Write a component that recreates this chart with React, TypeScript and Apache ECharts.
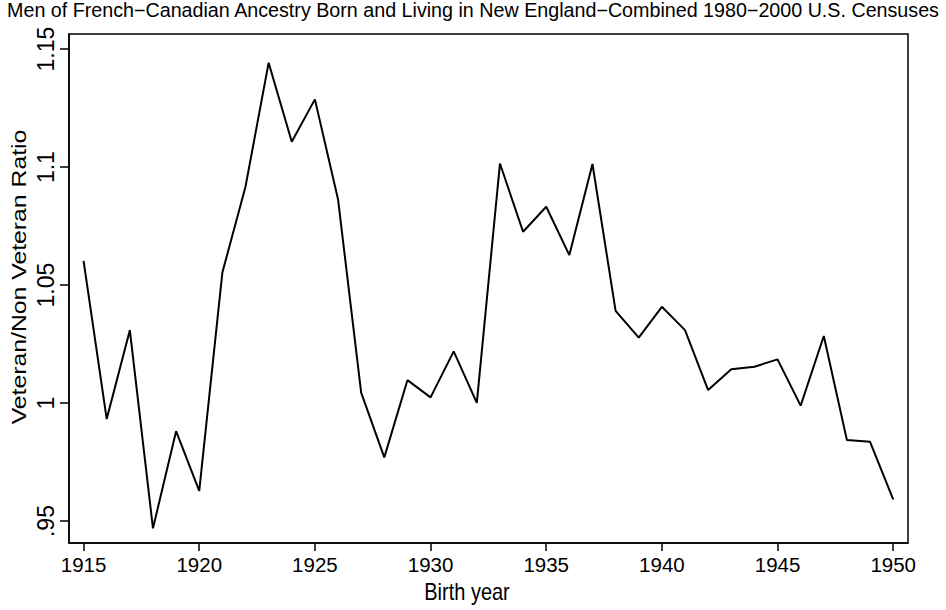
import React, { useEffect, useRef } from "react";
import * as echarts from "echarts";

const years = [
  1915, 1916, 1917, 1918, 1919, 1920, 1921, 1922, 1923, 1924, 1925, 1926,
  1927, 1928, 1929, 1930, 1931, 1932, 1933, 1934, 1935, 1936, 1937, 1938,
  1939, 1940, 1941, 1942, 1943, 1944, 1945, 1946, 1947, 1948, 1949, 1950,
];
const ratios = [
  1.0603, 0.9932, 1.0309, 0.9469, 0.9881, 0.9628, 1.0553, 1.0917, 1.1442,
  1.1107, 1.1287, 1.0864, 1.0044, 0.977, 1.0097, 1.0024, 1.0219, 1.0001,
  1.1015, 1.0726, 1.0832, 1.0627, 1.1013, 1.0391, 1.0277, 1.0408, 1.0309,
  1.0055, 1.0143, 1.0154, 1.0185, 0.9989, 1.0284, 0.9843, 0.9836, 0.9592,
];
const xTicks = [1915, 1920, 1925, 1930, 1935, 1940, 1945, 1950];
const yTicks = [0.95, 1, 1.05, 1.1, 1.15];

const subtitle =
  "Men of French\u2212Canadian Ancestry Born and Living in New England\u2212Combined 1980\u22122000 U.S. Censuses";
const xName = "Birth year";
const yName = "Veteran/Non Veteran Ratio";

const FONT = "'Liberation Sans', Arial, Helvetica, sans-serif";

export default function App() {
  const ref = useRef<HTMLDivElement>(null);
  useEffect(() => {
    if (!ref.current) return;
    const chart = echarts.init(ref.current, undefined, { renderer: "svg" });
    const fmtY = (v: number) => {
      const s = String(+Number(v).toFixed(2));
      return s.startsWith("0") ? s.slice(1) : s;
    };
    chart.setOption({
      animation: false,
      backgroundColor: "#fff",
      textStyle: { fontFamily: FONT },
      title: {
        text: subtitle,
        left: "center",
        top: 0,
        padding: 0,
        textStyle: { fontSize: 19.7, fontWeight: "normal", color: "#000", fontFamily: FONT },
      },
      graphic: [
        {
          type: "text",
          x: 19,
          y: 277,
          rotation: Math.PI / 2,
          scaleX: 1.18,
          style: {
            text: yName,
            font: `21px ${FONT}`,
            fill: "#000",
            align: "center",
            verticalAlign: "middle",
          },
        },
        {
          type: "text",
          x: 467,
          y: 592,
          scaleY: 1.2,
          style: {
            text: xName,
            font: `20px ${FONT}`,
            fill: "#000",
            align: "center",
            verticalAlign: "middle",
          },
        },
      ],
      grid: {
        left: 69,
        right: 38,
        top: 34,
        bottom: 67,
        show: true,
        borderColor: "#000",
        borderWidth: 1.5,
        backgroundColor: "#fff",
      },
      xAxis: {
        type: "value",
        min: 1914.37,
        max: 1950.64,
        axisLine: { show: true, onZero: false, lineStyle: { color: "#000", width: 1.5 } },
        axisTick: { show: true, length: 8, customValues: xTicks, lineStyle: { color: "#000", width: 1.5 } },
        axisLabel: {
          customValues: xTicks,
          fontSize: 20.5,
          color: "#000",
          margin: 11,
          fontFamily: FONT,
          formatter: (v: number) => String(Math.round(v)),
        },
        splitLine: { show: false },
      },
      yAxis: {
        type: "value",
        min: 0.9407,
        max: 1.1564,
        axisLine: { show: true, onZero: false, lineStyle: { color: "#000", width: 1.5 } },
        axisTick: { show: true, length: 9, customValues: yTicks, lineStyle: { color: "#000", width: 1.5 } },
        axisLabel: {
          customValues: yTicks,
          rotate: 90,
          fontSize: 23,
          color: "#000",
          margin: 12,
          fontFamily: FONT,
          formatter: fmtY,
        },
        splitLine: { show: false },
      },
      series: [
        {
          type: "line",
          data: years.map((y, i) => [y, ratios[i]]),
          showSymbol: false,
          symbol: "none",
          lineStyle: { color: "#000", width: 2 },
        },
      ],
    });
    return () => chart.dispose();
  }, []);
  return <div ref={ref} style={{ width: 946, height: 610, position: "absolute", left: 0, top: 0 }} />;
}
